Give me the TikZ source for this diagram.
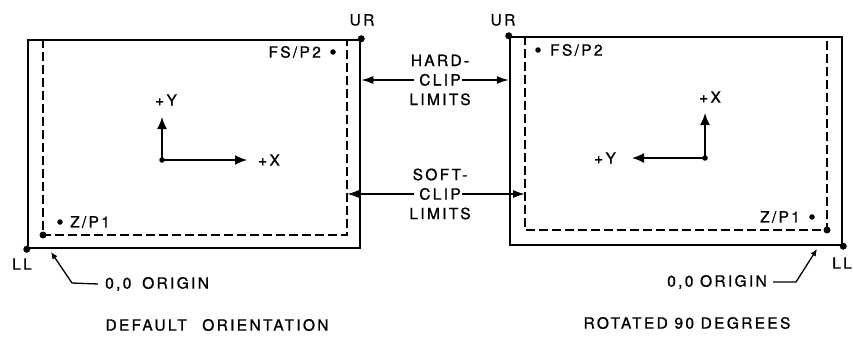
\documentclass[tikz,border=0pt]{standalone}
\usepackage{fontspec}
\setmainfont{TeX Gyre Heros}[LetterSpace=15, FakeBold=1]
\usetikzlibrary{positioning, arrows.meta, calc}
\tikzset{
  plotframe/.style={rectangle, draw, line width=2.5pt, minimum width=332pt,
                    minimum height=208pt, inner sep=0pt},
  softclip/.style={line width=1.7pt, dash pattern=on 9pt off 4pt},
  cornerdot/.style={circle, fill, inner sep=0pt, minimum size=7pt},
  markdot/.style={circle, fill, inner sep=0pt, minimum size=5.5pt},
  lbl/.style={font=\fontsize{15.5}{19.5}\selectfont, inner sep=1pt},
  capt/.style={lbl},
  clip arr/.style={-{Latex[length=12pt,width=8pt]}, line width=1.5pt},
  axis arr/.style={-{Latex[length=12pt,width=10pt]}, line width=1.7pt},
  leader/.style={-{Latex[length=7pt,width=6pt]}, line width=1.3pt},
}
\begin{document}
\begin{tikzpicture}[x=1pt, y=-1pt]
    \useasboundingbox (0,0) rectangle (853,348);

    % default orientation
    \node[plotframe] (frameL) at (194,144) {};
    \node[cornerdot] (urL) at (frameL.north east) {};
    \node[cornerdot] (llL) at (frameL.south west) {};
    \node[cornerdot] (orgL) at (43,235) {};
    \coordinate (softL) at (347,235);
    \draw[softclip] (orgL.center |- frameL.north) -- (orgL.center) -- (softL) -- (softL |- frameL.north);
    \node[lbl] (urLtxt) at (362,20) {UR};
    \node[lbl] (llLtxt) at (22,264) {LL};
    \node[markdot] (fsL) at (333,52) {};
    \node[lbl, left=8pt of fsL] (fsLtxt) {FS/P2};
    \node[markdot] (zL) at (60,222) {};
    \node[lbl, right=6pt of zL] (zLtxt) {Z/P1};
    \node[markdot] (axL) at (162,160) {};
    \coordinate (axLy) at (162,117);
    \coordinate (axLx) at (247,160);
    \draw[axis arr] (axL.center) -- (axLy);
    \draw[axis arr] (axL.center) -- (axLx);
    \node[lbl] (yLtxt) at (166,100) {+Y};
    \node[lbl] (xLtxt) at (269,160) {+X};
    \node[lbl, anchor=west] (orgLtxt) at (104,284) {0,0\hspace{0.7em}ORIGIN};
    \coordinate (bendL) at (72,283);
    \coordinate (tipL) at (51,252);
    \draw[leader] ([xshift=-6pt]orgLtxt.west) -- (bendL) -- (tipL);
    \node[capt] (captL) at (217,325) {DEFAULT\hspace{1em}ORIENTATION};

    % rotated 90 degrees
    \node[plotframe] (frameR) at (676,141) {};
    \node[cornerdot] (urR) at (frameR.north west) {};
    \node[cornerdot] (llR) at (frameR.south east) {};
    \node[cornerdot] (orgR) at (827,230) {};
    \coordinate (softR) at (525,230);
    \draw[softclip] (softR |- frameR.north) -- (softR) -- (orgR.center) -- (orgR.center |- frameR.north);
    \node[lbl] (urRtxt) at (503,20) {UR};
    \node[lbl, anchor=east] (llRtxt) at (853,263) {LL};
    \node[markdot] (fsR) at (538,50) {};
    \node[lbl, right=8pt of fsR] (fsRtxt) {FS/P2};
    \node[markdot] (zR) at (812,217) {};
    \node[lbl, left=8pt of zR] (zRtxt) {Z/P1};
    \node[markdot] (axR) at (705,158) {};
    \coordinate (axRx) at (705,113);
    \coordinate (axRy) at (632,158);
    \draw[axis arr] (axR.center) -- (axRx);
    \draw[axis arr] (axR.center) -- (axRy);
    \node[lbl] (xRtxt) at (710,97) {+X};
    \node[lbl] (yRtxt) at (605,158) {+Y};
    \node[lbl, anchor=east] (orgRtxt) at (768,282) {0,0 ORIGIN};
    \coordinate (bendR) at (796,282);
    \coordinate (tipR) at (817,249);
    \draw[leader] ([xshift=5pt]orgRtxt.east) -- (bendR) -- (tipR);
    \node[capt] (captR) at (687,323) {ROTATED 90 DEGREES};

    % clip limits
    \node[lbl, align=center] (hard) at (440,80) {HARD-\\CLIP\\LIMITS};
    \draw[clip arr] ([xshift=6pt]hard.west) -- (hard -| frameL.east);
    \draw[clip arr] ([xshift=-10pt]hard.east) -- (hard -| frameR.west);
    \node[lbl, align=center] (soft) at (440,194) {SOFT-\\CLIP\\LIMITS};
    \draw[clip arr] ([xshift=6pt]soft.west) -- (soft -| softL);
    \draw[clip arr] ([xshift=-10pt]soft.east) -- (soft -| softR);
\end{tikzpicture}
\end{document}
